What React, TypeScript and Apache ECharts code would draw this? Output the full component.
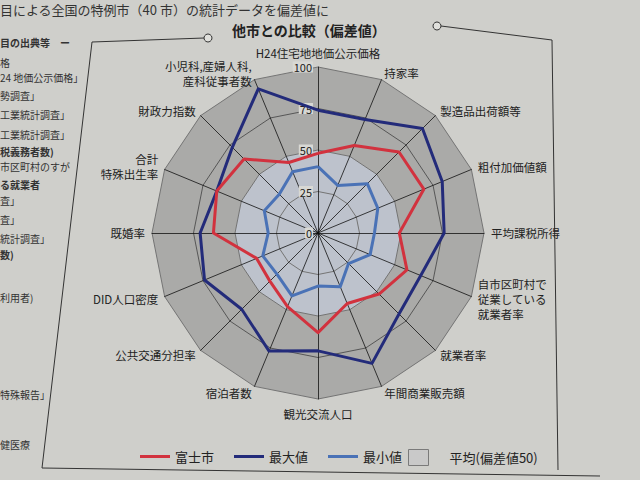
import { FC, useEffect, useRef } from "react";
import * as echarts from "echarts";

// 指標（上から時計回り）
const indicatorNames = [
  "H24住宅地地価公示価格",
  "持家率",
  "製造品出荷額等",
  "粗付加価値額",
  "平均課税所得",
  "自市区町村で\n従業している\n就業者率",
  "就業者率",
  "年間商業販売額",
  "観光交流人口",
  "宿泊者数",
  "公共交通分担率",
  "DID人口密度",
  "既婚率",
  "合計\n特殊出生率",
  "財政力指数",
  "小児科,産婦人科,\n産科従事者数",
];

const fujiValues = [48, 57, 69, 69, 49, 58, 52, 46, 60, 48, 41, 40, 63, 66, 63, 46];
const maxValues = [74, 74, 89, 81, 76, 67, 69, 85, 71, 77, 65, 74, 71, 66, 73, 94];
const minValues = [40, 31, 42, 39, 34, 34, 26, 35, 32, 41, 35, 36, 30, 35, 33, 40];
const avgValues = [50, 50, 50, 50, 50, 50, 50, 50, 50, 50, 50, 50, 50, 50, 50, 50];

const seriesNames = ["富士市", "最大値", "最小値"];
const avgName = "平均(偏差値50)";

// 左側の切れた本文
const sideTexts = [
  { t: "目の出典等　ー", y: 37, bold: true },
  { t: "格", y: 57 },
  { t: "24 地価公示価格」", y: 72 },
  { t: "勢調査」", y: 90 },
  { t: "工業統計調査」", y: 109 },
  { t: "工業統計調査」", y: 129 },
  { t: "税義務者数)", y: 146, bold: true },
  { t: "市区町村のすが", y: 161 },
  { t: "る就業者", y: 179, bold: true },
  { t: "査」", y: 195 },
  { t: "査」", y: 214 },
  { t: "統計調査」", y: 233 },
  { t: "数)", y: 249, bold: true },
  { t: "利用者)", y: 292 },
  { t: "特殊報告」", y: 389 },
  { t: "健医療", y: 439 },
];

const FONT = "'Noto Sans CJK JP', 'Noto Sans', sans-serif";

// ECharts のレーダーは反時計回りなので、先頭以外を逆順にする
function toCcw<T>(arr: T[]): T[] {
  return [arr[0], ...arr.slice(1).reverse()];
}

const App: FC = () => {
  const chartRef = useRef<HTMLDivElement>(null);

  useEffect(() => {
    if (!chartRef.current) return;
    const chart = echarts.init(chartRef.current, undefined, { renderer: "svg" });

    const option = {
      animation: false,
      backgroundColor: "#cfcfcb",
      textStyle: { fontFamily: FONT },
      graphic: [
        {
          type: "text",
          left: 0,
          top: 2,
          style: {
            text: "目による全国の特例市（40 市）の統計データを偏差値に",
            fill: "#333",
            font: `13px ${FONT}`,
            lineHeight: 15,
          },
        },
        {
          type: "text",
          left: 232,
          top: 22,
          style: { text: "他市との比較（偏差値）", fill: "#222", font: `bold 14px ${FONT}`, lineHeight: 16 },
        },
        {
          type: "polyline",
          shape: { points: [[204, 38], [92, 42], [42, 468], [600, 476]] },
          style: { stroke: "#333", lineWidth: 1, fill: null },
        },
        {
          type: "polyline",
          shape: { points: [[441, 26], [552, 40], [558, 470]] },
          style: { stroke: "#333", lineWidth: 1, fill: null },
        },
        { type: "circle", shape: { cx: 208, cy: 38, r: 4 }, style: { stroke: "#333", fill: "#e0e0dc", lineWidth: 1 } },
        { type: "circle", shape: { cx: 437, cy: 26, r: 4 }, style: { stroke: "#333", fill: "#e0e0dc", lineWidth: 1 } },
        ...sideTexts.map((s) => ({
          type: "text",
          left: 0,
          top: s.y,
          style: {
            text: s.t,
            fill: "#333",
            font: `${s.bold ? "bold " : ""}10px ${FONT}`,
            lineHeight: 11,
          },
        })),
      ],
      legend: [
        {
          data: seriesNames,
          icon: "rect",
          left: 135,
          top: 445,
          itemWidth: 30,
          itemHeight: 3,
          itemGap: 20,
          textStyle: { color: "#222", fontSize: 13, fontFamily: FONT },
        },
        {
          data: [
            {
              name: avgName,
              icon: "rect",
              itemStyle: { color: "#c9c9c9", borderColor: "#7a7a7a", borderWidth: 1 },
            },
          ],
          left: 403,
          top: 444,
          itemWidth: 20,
          itemHeight: 16,
          textStyle: { color: "#222", fontSize: 13, fontFamily: FONT, padding: [0, 0, 0, 16] },
        },
      ],
      radar: {
        center: [318, 233],
        radius: 166,
        startAngle: 90,
        shape: "polygon",
        splitNumber: 4,
        nameGap: 7,
        indicator: toCcw(indicatorNames).map((name, i) => ({
          name,
          min: 0,
          max: 100,
          ...(i === 0
            ? {
                axisLabel: {
                  show: true,
                  color: "#222",
                  fontSize: 11,
                  margin: 5,
                  backgroundColor: "#d8d8d4",
                  padding: [0, 1],
                },
              }
            : {}),
        })),
        axisName: { color: "#222", fontSize: 11.5, lineHeight: 15, fontFamily: FONT },
        axisLine: { lineStyle: { color: "#111", width: 0.8 } },
        splitLine: { lineStyle: { color: ["#747474", "#747474", "#747474", "#555"], width: 1 } },
        splitArea: {
          show: true,
          areaStyle: { color: ["#bdc2cc", "#bdc2cc", "#aaaaa8", "#aaaaa8"] },
        },
        axisLabel: { show: false },
        axisTick: { show: false },
      },
      series: [
        {
          type: "radar",
          symbol: "none",
          data: [
            {
              name: avgName,
              value: toCcw(avgValues),
              itemStyle: { color: "#c9c9c9" },
              lineStyle: { opacity: 0 },
            },
            {
              name: seriesNames[1],
              value: toCcw(maxValues),
              itemStyle: { color: "#232b7a" },
              lineStyle: { color: "#232b7a", width: 3 },
            },
            {
              name: seriesNames[0],
              value: toCcw(fujiValues),
              itemStyle: { color: "#d2323e" },
              lineStyle: { color: "#d2323e", width: 3 },
            },
            {
              name: seriesNames[2],
              value: toCcw(minValues),
              itemStyle: { color: "#4a72b6" },
              lineStyle: { color: "#4a72b6", width: 3 },
            },
          ],
        },
      ],
    };

    chart.setOption(option);
    return () => {
      chart.dispose();
    };
  }, []);

  return (
    <div
      ref={chartRef}
      style={{ position: "absolute", left: 0, top: 0, width: 640, height: 480 }}
    />
  );
};

export default App;
